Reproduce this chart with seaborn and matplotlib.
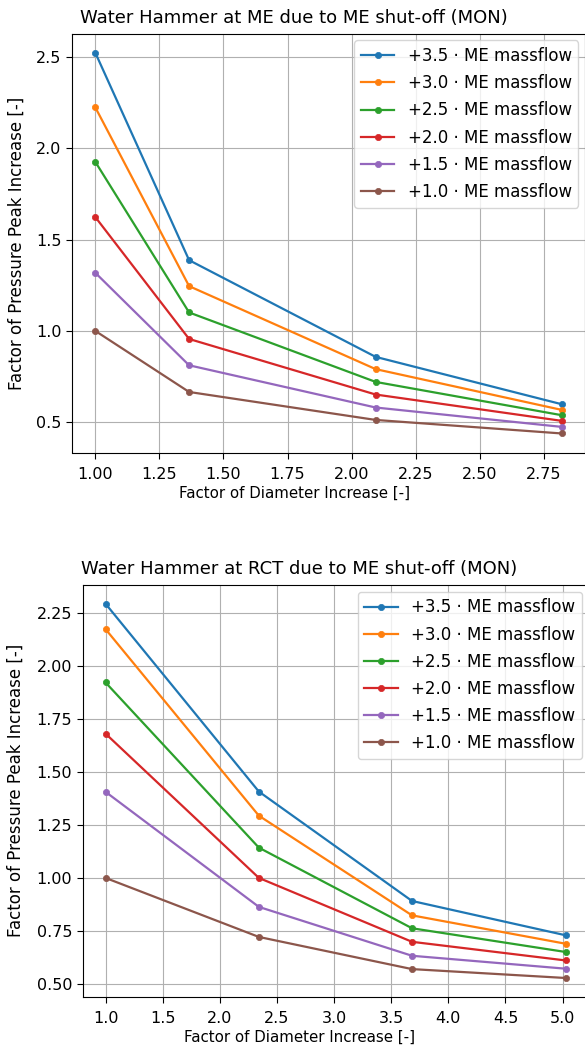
import matplotlib
matplotlib.use("Agg")
import matplotlib.pyplot as plt
import seaborn as sns
import pandas as pd

plt.rcParams["font.family"] = ["DejaVu Sans"]

# Massflow multipliers, one line per multiplier
factors = ["+3.5", "+3.0", "+2.5", "+2.0", "+1.5", "+1.0"]
colors = sns.color_palette("tab10", 6)

# Water hammer at ME
me_diam = [1.0, 1.366, 2.094, 2.82]
me_peak = {
    "+3.5": [2.522, 1.387, 0.858, 0.599],
    "+3.0": [2.223, 1.245, 0.791, 0.568],
    "+2.5": [1.925, 1.101, 0.721, 0.539],
    "+2.0": [1.623, 0.956, 0.652, 0.508],
    "+1.5": [1.318, 0.812, 0.581, 0.475],
    "+1.0": [1.000, 0.666, 0.513, 0.439],
}

# Water hammer at RCT
rct_diam = [1.0, 2.342, 3.682, 5.025]
rct_peak = {
    "+3.5": [2.296, 1.408, 0.891, 0.729],
    "+3.0": [2.176, 1.294, 0.823, 0.689],
    "+2.5": [1.924, 1.143, 0.762, 0.650],
    "+2.0": [1.682, 1.000, 0.698, 0.610],
    "+1.5": [1.407, 0.863, 0.632, 0.571],
    "+1.0": [1.000, 0.721, 0.569, 0.527],
}

W, H = 585, 1050
fig = plt.figure(figsize=(W / 100, H / 100), dpi=100)


def px_axes(left, top, right, bottom):
    return fig.add_axes([left / W, 1 - bottom / H, (right - left) / W, (bottom - top) / H])


ax1 = px_axes(72, 33.7, 585, 452.5)
ax2 = px_axes(82.5, 585, 588.5, 996.7)


def draw(ax, diam, peaks, title, text_x, ylabel_x):
    for f, c in zip(factors, colors):
        df = pd.DataFrame({"x": diam, "y": peaks[f]})
        sns.lineplot(data=df, x="x", y="y", ax=ax, color=c, marker="o",
                     markersize=4.5, markeredgecolor=c, markeredgewidth=0.5,
                     linewidth=1.6, label=f"{f} \u00b7 ME massflow")
    ax.grid(True, color="#b0b0b0", linewidth=0.8)
    ax.set_axisbelow(True)
    ax.set_title(title, fontsize=13, x=text_x, pad=8)
    ax.set_xlabel("Factor of Diameter Increase [-]", fontsize=10.8, labelpad=3)
    ax.xaxis.label.set_x(text_x)
    ax.set_ylabel("Factor of Pressure Peak Increase [-]", fontsize=12)
    ax.yaxis.set_label_coords(ylabel_x, 0.5)
    ax.tick_params(axis="x", labelsize=11.5, length=4.3, pad=6)
    ax.tick_params(axis="y", labelsize=11.5, length=4.0, pad=3.5)
    ax.legend(loc="upper right", fontsize=12, labelspacing=0.55,
              borderaxespad=0.4)


draw(ax1, me_diam, me_peak, "Water Hammer at ME due to ME shut-off (MON)",
     0.433, -0.091)
ax1.set_yticks([0.5, 1.0, 1.5, 2.0, 2.5])
ax1.set_xticks([1.0, 1.25, 1.5, 1.75, 2.0, 2.25, 2.5, 2.75])

draw(ax2, rct_diam, rct_peak, "Water Hammer at RCT due to ME shut-off (MON)",
     0.429, -0.114)
ax2.set_yticks([0.5, 0.75, 1.0, 1.25, 1.5, 1.75, 2.0, 2.25])
ax2.set_xticks([1.0, 1.5, 2.0, 2.5, 3.0, 3.5, 4.0, 4.5, 5.0])

fig.savefig("out.png", dpi=100)
